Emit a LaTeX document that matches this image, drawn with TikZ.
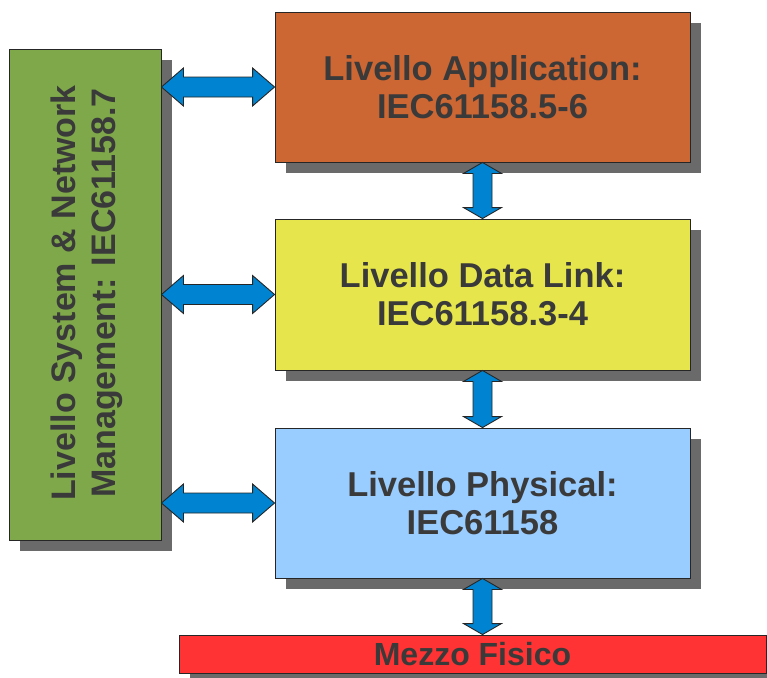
\documentclass[tikz,border=0pt]{standalone}
\usepackage{fontspec}
\setmainfont{Liberation Sans}
\usetikzlibrary{shadows,calc}
\definecolor{txtgray}{HTML}{3A3A3A}
\definecolor{shadowgray}{HTML}{6A6A6A}
\definecolor{arrowblue}{HTML}{0084D1}
\definecolor{boxgreen}{HTML}{7EA84A}
\definecolor{boxorange}{HTML}{CC6633}
\definecolor{boxyellow}{HTML}{E6E64C}
\definecolor{boxblue}{HTML}{99CCFF}
\definecolor{boxred}{HTML}{FF3333}
\tikzset{
  layerbox/.style={rectangle, draw=black!85, line width=0.9pt, inner sep=0pt,
    text=txtgray, align=center, font=\fontsize{34.5}{38}\selectfont\bfseries,
    drop shadow={shadow xshift=11pt, shadow yshift=-11pt, fill=shadowgray, opacity=1}},
  blockarrow/.style={fill=arrowblue, draw=black!85, line width=0.9pt, line join=miter}
}
\newcommand\harrow[2]{%
  \path[blockarrow] let \p1=(#1), \p2=(#2) in
    (\x1,\y1) -- (\x1+22pt,\y1+19pt) -- (\x1+22pt,\y1+10pt) -- (\x2-22pt,\y1+10pt)
    -- (\x2-22pt,\y1+19pt) -- (\x2,\y1) -- (\x2-22pt,\y1-19pt) -- (\x2-22pt,\y1-10pt)
    -- (\x1+22pt,\y1-10pt) -- (\x1+22pt,\y1-19pt) -- cycle;}
\newcommand\varrow[2]{%
  \path[blockarrow] let \p1=(#1), \p2=(#2) in
    (\x1,\y1) -- (\x1+19pt,\y1-11pt) -- (\x1+9.5pt,\y1-11pt) -- (\x1+9.5pt,\y2+11pt)
    -- (\x1+19pt,\y2+11pt) -- (\x1,\y2) -- (\x1-19pt,\y2+11pt) -- (\x1-9.5pt,\y2+11pt)
    -- (\x1-9.5pt,\y1-11pt) -- (\x1-19pt,\y1-11pt) -- cycle;}
\begin{document}
\begin{tikzpicture}[x=1pt,y=-1pt]
\useasboundingbox (0,0) rectangle (767,677);
\clip (0,0) rectangle (767,677);
\fill[white] (0,0) rectangle (767,677);
\node[layerbox, fill=boxgreen, minimum width=152pt, minimum height=491pt] (g) at (85,294.5) {};
\node[rotate=90, text=txtgray, align=center, font=\fontsize{34}{40}\selectfont\bfseries] (gt) at (87,293) {Livello System \& Network\\Management: IEC61158.7};
\node[layerbox, fill=boxorange, minimum width=415pt, minimum height=150pt] (o) at (482.5,87) {Livello Application:\\IEC61158.5-6};
\node[layerbox, fill=boxyellow, minimum width=415pt, minimum height=151pt] (y) at (482.5,294.5) {Livello Data Link:\\IEC61158.3-4};
\node[layerbox, fill=boxblue, minimum width=415pt, minimum height=150pt] (b) at (482.5,503) {Livello Physical:\\IEC61158};
\node[layerbox, fill=boxred, minimum width=587pt, minimum height=38pt, font=\fontsize{32}{34}\selectfont\bfseries] (r) at (472.5,654) {Mezzo Fisico};
\harrow{g.east |- o.west}{o.west}
\harrow{g.east |- y.west}{y.west}
\harrow{g.east |- b.west}{b.west}
\varrow{o.south}{y.north}
\varrow{y.south}{b.north}
\varrow{b.south}{b.south |- r.north}
\end{tikzpicture}
\end{document}
